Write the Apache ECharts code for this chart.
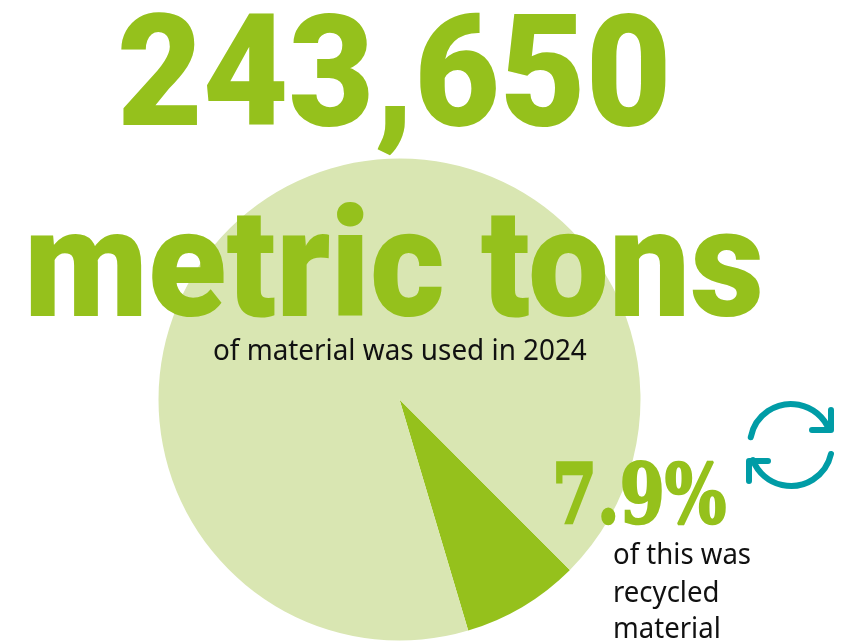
<!DOCTYPE html>
<html>
<head>
<meta charset="utf-8">
<style>html,body{margin:0;padding:0;background:#fff}#chart{width:843px;height:643px}</style>
<script src="https://cdn.jsdelivr.net/npm/echarts@6/dist/echarts.min.js"></script>
</head>
<body>
<div id="chart"></div>
<script>
// Share of material by origin, in percent
const categories = ['Recycled material', 'Other material'];
const shares = [7.9, 92.1];
const totalLabel = '243,650';
const unitLabel = 'metric tons';
const totalNote = 'of material was used in 2024';
const shareLabel = '7.9%';
const shareNote = ['of this was', 'recycled', 'material'];

const GREEN = '#95c11c';
const PALE = '#d9e6b2';
const TEAL = '#009ca6';

// Distance from the top of a line box to its baseline, per font size
const ASCENT = { Roboto: 0.77, '"Noto Sans"': 0.83, '"DejaVu Serif"': 0.76 };

function textAt(text, x, baseline, size, scaleX, family, weight, fill, outline) {
  return {
    type: 'text', x: x, y: baseline - ASCENT[family] * size, scaleX: scaleX, z: 10, silent: true,
    style: {
      text: text, x: 0, y: 0, fill: fill, fontSize: size,
      fontFamily: family, fontWeight: weight,
      align: 'left', verticalAlign: 'top',
      stroke: outline ? fill : null, lineWidth: outline || 0
    }
  };
}

// Recycling symbol: two arcs with arrow heads
function cycleIcon() {
  const line = { stroke: TEAL, lineWidth: 6, lineCap: 'round', lineJoin: 'round', fill: null };
  return [
    { type: 'arc', z: 10, silent: true, shape: { cx: 791, cy: 445, r: 41, startAngle: Math.PI * 1.06, endAngle: Math.PI * 1.88 }, style: line },
    { type: 'arc', z: 10, silent: true, shape: { cx: 791, cy: 445, r: 41, startAngle: Math.PI * 0.07, endAngle: Math.PI * 0.88 }, style: line },
    { type: 'polyline', z: 10, silent: true, shape: { points: [[831, 410], [831, 430], [812, 430]] }, style: line },
    { type: 'polyline', z: 10, silent: true, shape: { points: [[749, 481], [749, 461], [768, 461]] }, style: line }
  ];
}

const chart = echarts.init(document.getElementById('chart'), null, { renderer: 'canvas' });
chart.setOption({
  animation: false,
  backgroundColor: '#fff',
  series: [{
    type: 'pie',
    center: [399.5, 399.5],
    radius: [0, 241],
    startAngle: -45,
    clockwise: true,
    silent: true,
    label: { show: false },
    labelLine: { show: false },
    itemStyle: { borderWidth: 0 },
    data: categories.map((name, i) => ({
      name: name,
      value: shares[i],
      itemStyle: { color: i === 0 ? GREEN : PALE }
    }))
  }],
  graphic: {
    elements: [
      textAt(totalLabel, 117, 128, 155, 0.955, 'Roboto', 900, GREEN),
      textAt(unitLabel, 24, 319, 152, 0.947, 'Roboto', 900, GREEN),
      textAt(totalNote, 213, 361, 29, 0.96, '"Noto Sans"', 400, '#111'),
      textAt(shareLabel, 552, 523, 82, 0.79, '"DejaVu Serif"', 700, GREEN, 2.5),
      textAt(shareNote[0], 613, 565, 29, 0.95, '"Noto Sans"', 400, '#111'),
      textAt(shareNote[1], 613, 603, 29, 0.95, '"Noto Sans"', 400, '#111'),
      textAt(shareNote[2], 613, 639, 29, 0.95, '"Noto Sans"', 400, '#111')
    ].concat(cycleIcon())
  }
});
</script>
</body>
</html>
